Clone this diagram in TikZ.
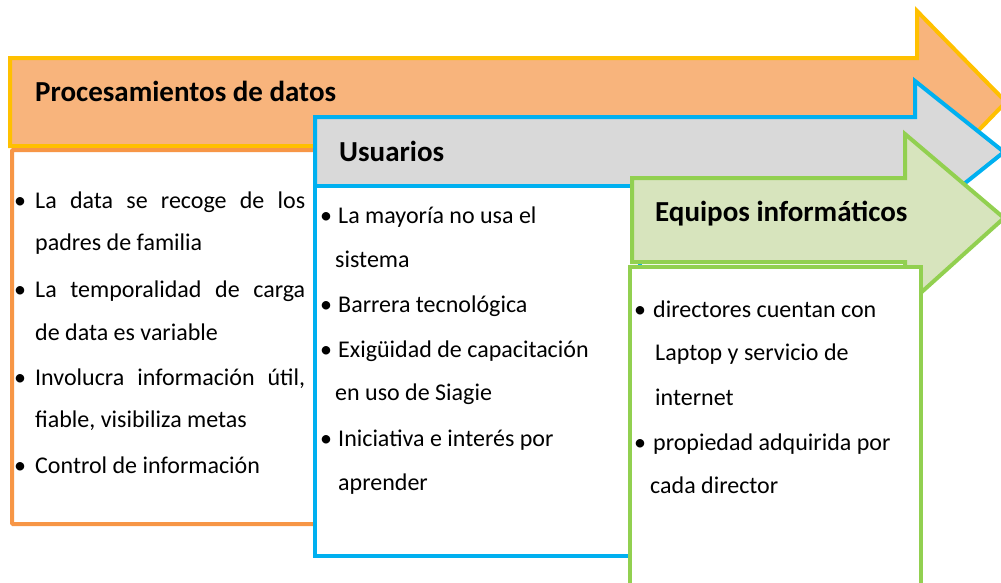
\documentclass[tikz,border=0pt]{standalone}
\usepackage{fontspec}
\setmainfont{Carlito}
\definecolor{orfill}{HTML}{F8B47C}
\definecolor{yelline}{HTML}{FFC000}
\definecolor{orline}{HTML}{F79646}
\definecolor{bluline}{HTML}{00B0F0}
\definecolor{grfill}{HTML}{D9D9D9}
\definecolor{grnline}{HTML}{92D050}
\definecolor{grnfill}{HTML}{D7E4BD}
\begin{document}
\begin{tikzpicture}[x=1pt,y=-1pt,
  title/.style={anchor=base west,inner sep=0pt,font=\fontsize{29}{34}\selectfont\bfseries},
  body/.style={anchor=base west,inner sep=0pt,font=\fontsize{24}{28}\selectfont},
  bul/.style={anchor=base west,inner sep=0pt,font=\fontsize{24}{28}\selectfont},
  shp/.style={line width=4pt,line join=miter}]
\useasboundingbox (0,0) rectangle (1001,582);
\clip (0,0) rectangle (1001,582);
% orange arrow
\draw[shp,draw=yelline,fill=orfill] (10,58) -- (917,58) -- (917,11) -- (1006,102) -- (917,194) -- (917,146) -- (10,146) -- cycle;
\draw[shp,draw=orline,fill=white,rounded corners=1pt] (12,150) rectangle (325,524);
% blue arrow
\draw[shp,draw=bluline,fill=grfill] (315,117) -- (915,117) -- (915,81) -- (1004,152) -- (915,223) -- (915,186) -- (315,186) -- cycle;
\draw[shp,draw=bluline,fill=white] (315,186) rectangle (640,556);
% green arrow
\draw[shp,draw=grnline,fill=grnfill] (632,178) -- (905,178) -- (905,134) -- (1004,218) -- (905,307) -- (905,262) -- (632,262) -- cycle;
\draw[shp,draw=grnline,fill=white] (630,267) rectangle (921,600);
% titles
\node[title] (t1) at (35,101) {Procesamientos de datos};
\node[title] (t2) at (339,161) {Usuarios};
\node[title] (t3) at (655,221) {Equipos informáticos};
% orange box text
\node[bul] (ob1) at (14,208) {•};
\node[body] (o1) at (35,208) {\makebox[270pt][s]{La data se recoge de los}};
\node[body] (o2) at (35,250) {padres de familia};
\node[bul] (ob2) at (14,297) {•};
\node[body] (o3) at (35,297) {\makebox[270pt][s]{La temporalidad de carga}};
\node[body] (o4) at (35,340) {de data es variable};
\node[bul] (ob3) at (14,385) {•};
\node[body] (o5) at (35,385) {\makebox[270pt][s]{Involucra información útil,}};
\node[body] (o6) at (35,427) {fiable, visibiliza metas};
\node[bul] (ob4) at (14,473) {•};
\node[body] (o7) at (35,473) {Control de información};
% blue box text
\node[bul] (bb1) at (320,223) {•};
\node[body] (b1) at (338,223) {La mayoría no usa el};
\node[body] (b2) at (335,267) {sistema};
\node[bul] (bb2) at (320,312) {•};
\node[body] (b3) at (338,312) {Barrera tecnológica};
\node[bul] (bb3) at (320,357) {•};
\node[body] (b4) at (338,357) {Exigüidad de capacitación};
\node[body] (b5) at (335,400) {en uso de Siagie};
\node[bul] (bb4) at (320,446) {•};
\node[body] (b6) at (338,446) {Iniciativa e interés por};
\node[body] (b7) at (338,490) {aprender};
% green box text
\node[bul] (gb1) at (634,317) {•};
\node[body] (g1) at (653,317) {directores cuentan con};
\node[body] (g2) at (655,360) {Laptop y servicio de};
\node[body] (g3) at (655,405) {internet};
\node[bul] (gb2) at (634,450) {•};
\node[body] (g4) at (653,450) {propiedad adquirida por};
\node[body] (g5) at (650,493) {cada director};
\end{tikzpicture}
\end{document}
